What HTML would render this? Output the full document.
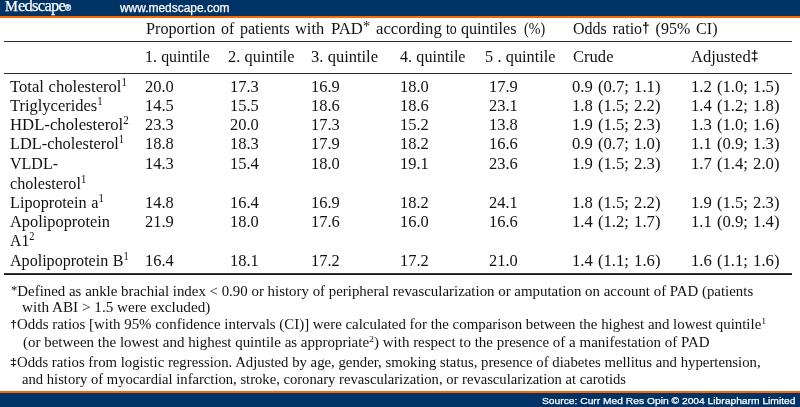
<!DOCTYPE html>
<html><head><meta charset="utf-8"><title>Table</title>
<style>
html,body{margin:0;padding:0;background:#fff;}
body{width:800px;height:407px;position:relative;overflow:hidden;}
.t{position:absolute;white-space:nowrap;transform-origin:0 0;}
.sp{font-size:0.66em;position:relative;top:-0.54em;line-height:0;}
.dg{font-family:"Liberation Sans",sans-serif;font-size:0.85em;font-weight:bold;position:relative;top:-0.06em;line-height:0;}
.ast{font-size:0.85em;position:relative;top:-0.17em;line-height:0;}
.w{-webkit-text-stroke:0.25px #fff;}
#txt{position:absolute;left:0;top:0;width:800px;height:407px;will-change:transform;}
.bar{position:absolute;left:0;width:800px;}
.ln{position:absolute;left:4px;width:788px;background:#2e2e2e;}
</style></head><body>
<div class="bar" style="top:0;height:16px;background:#003366"></div>
<div class="bar" style="top:16px;height:2px;background:#ff6600"></div>
<div class="bar" style="top:391px;height:2px;background:#ff6600"></div>
<div class="bar" style="top:393px;height:14px;background:#003366"></div>
<div class="ln" style="top:41px;height:1px"></div>
<div class="ln" style="top:73px;height:1px"></div>
<div class="ln" style="top:273px;height:1px;background:#3a3a3a"></div>
<div class="ln" style="top:274px;height:1px;background:#161616"></div>
<div id="txt">
<div class="t w" style='left:5.2px;top:-2px;font:normal 14.5px/16px "Liberation Serif", serif;color:#fff;transform:scaleX(0.9994);'>M<span style="font-size:16.5px;letter-spacing:-0.7px">edscape</span></div>
<div class="t w" style='left:65.3px;top:3px;font:bold 8.5px/10px "Liberation Sans", sans-serif;color:#fff;transform:scaleX(0.9736);'>®</div>
<div class="t w" style='left:120.3px;top:1px;font:normal 12px/14px "Liberation Sans", sans-serif;color:#fff;transform:scaleX(0.9950);'>www.medscape.com</div>
<div class="t w" style='left:541.5px;top:395px;font:normal 9.6px/11px "Liberation Sans", sans-serif;color:#fff;transform:scaleX(1.0700);'>Source: Curr Med Res Opin © 2004 Librapharm Limited</div>
<div class="t" style='left:146.0px;top:18px;font:normal 17.5px/20px "Liberation Serif", serif;color:#111;transform:scaleX(0.9255);'>Proportion</div>
<div class="t" style='left:221.0px;top:18px;font:normal 17.5px/20px "Liberation Serif", serif;color:#111;transform:scaleX(0.9123);'>of</div>
<div class="t" style='left:240.2px;top:18px;font:normal 17.5px/20px "Liberation Serif", serif;color:#111;transform:scaleX(0.9148);'>patients</div>
<div class="t" style='left:294.6px;top:18px;font:normal 17.5px/20px "Liberation Serif", serif;color:#111;transform:scaleX(0.9382);'>with</div>
<div class="t" style='left:331.2px;top:18px;font:normal 17.5px/20px "Liberation Serif", serif;color:#111;transform:scaleX(0.9549);'>PAD<span class="ast">*</span></div>
<div class="t" style='left:375.8px;top:18px;font:normal 17.5px/20px "Liberation Serif", serif;color:#111;transform:scaleX(0.9536);'>according</div>
<div class="t" style='left:446.0px;top:18px;font:normal 17.5px/20px "Liberation Serif", serif;color:#111;transform:scaleX(0.7927);'>to</div>
<div class="t" style='left:461.0px;top:18px;font:normal 17.5px/20px "Liberation Serif", serif;color:#111;transform:scaleX(0.9207);'>quintiles</div>
<div class="t" style='left:523.6px;top:18px;font:normal 17.5px/20px "Liberation Serif", serif;color:#111;transform:scaleX(0.8043);'>(%)</div>
<div class="t" style='left:572.5px;top:18px;font:normal 17.5px/20px "Liberation Serif", serif;color:#111;word-spacing:2px;transform:scaleX(0.9166);'>Odds ratio<span class="dg">†</span> (95% CI)</div>
<div class="t" style='left:144.8px;top:46px;font:normal 17.5px/20px "Liberation Serif", serif;color:#111;word-spacing:0.3px;transform:scaleX(0.9079);'>1. quintile</div>
<div class="t" style='left:228px;top:46px;font:normal 17.5px/20px "Liberation Serif", serif;color:#111;word-spacing:0.3px;transform:scaleX(0.9331);'>2. quintile</div>
<div class="t" style='left:311px;top:46px;font:normal 17.5px/20px "Liberation Serif", serif;color:#111;word-spacing:0.3px;transform:scaleX(0.9401);'>3. quintile</div>
<div class="t" style='left:400px;top:46px;font:normal 17.5px/20px "Liberation Serif", serif;color:#111;word-spacing:0.3px;transform:scaleX(0.9191);'>4. quintile</div>
<div class="t" style='left:485px;top:46px;font:normal 17.5px/20px "Liberation Serif", serif;color:#111;word-spacing:0.3px;transform:scaleX(0.9282);'>5 . quintile</div>
<div class="t" style='left:572.5px;top:46px;font:normal 17.5px/20px "Liberation Serif", serif;color:#111;word-spacing:2px;transform:scaleX(0.9467);'>Crude</div>
<div class="t" style='left:690.5px;top:46px;font:normal 17.5px/20px "Liberation Serif", serif;color:#111;word-spacing:2px;transform:scaleX(0.9445);'>Adjusted<span class="dg">‡</span></div>
<div class="t" style='left:10.0px;top:76px;font:normal 17.5px/20px "Liberation Serif", serif;color:#111;word-spacing:0.5px;transform:scaleX(0.9500);'>Total cholesterol<span class="sp">1</span></div>
<div class="t" style='left:10.0px;top:95px;font:normal 17.5px/20px "Liberation Serif", serif;color:#111;word-spacing:0.5px;transform:scaleX(0.9414);'>Triglycerides<span class="sp">1</span></div>
<div class="t" style='left:10.0px;top:114px;font:normal 17.5px/20px "Liberation Serif", serif;color:#111;word-spacing:0.5px;transform:scaleX(0.9549);'>HDL-cholesterol<span class="sp">2</span></div>
<div class="t" style='left:10.0px;top:133px;font:normal 17.5px/20px "Liberation Serif", serif;color:#111;word-spacing:0.5px;transform:scaleX(0.9334);'>LDL-cholesterol<span class="sp">1</span></div>
<div class="t" style='left:10.0px;top:153px;font:normal 17.5px/20px "Liberation Serif", serif;color:#111;word-spacing:0.5px;transform:scaleX(0.9146);'>VLDL-</div>
<div class="t" style='left:10.0px;top:173px;font:normal 17.5px/20px "Liberation Serif", serif;color:#111;word-spacing:0.5px;transform:scaleX(0.9235);'>cholesterol<span class="sp">1</span></div>
<div class="t" style='left:10.0px;top:192px;font:normal 17.5px/20px "Liberation Serif", serif;color:#111;word-spacing:0.5px;transform:scaleX(0.9278);'>Lipoprotein a<span class="sp">1</span></div>
<div class="t" style='left:10.0px;top:211px;font:normal 17.5px/20px "Liberation Serif", serif;color:#111;word-spacing:0.5px;transform:scaleX(0.9351);'>Apolipoprotein</div>
<div class="t" style='left:10.0px;top:230px;font:normal 17.5px/20px "Liberation Serif", serif;color:#111;word-spacing:0.5px;transform:scaleX(0.9017);'>A1<span class="sp">2</span></div>
<div class="t" style='left:10.0px;top:250px;font:normal 17.5px/20px "Liberation Serif", serif;color:#111;word-spacing:0.5px;transform:scaleX(0.9187);'>Apolipoprotein B<span class="sp">1</span></div>
<div class="t" style='left:145.2px;top:76px;font:normal 17.5px/20px "Liberation Serif", serif;color:#111;word-spacing:1px;transform:scaleX(0.9404);'>20.0</div>
<div class="t" style='left:229.8px;top:76px;font:normal 17.5px/20px "Liberation Serif", serif;color:#111;word-spacing:1px;transform:scaleX(0.9404);'>17.3</div>
<div class="t" style='left:310.5px;top:76px;font:normal 17.5px/20px "Liberation Serif", serif;color:#111;word-spacing:1px;transform:scaleX(0.9404);'>16.9</div>
<div class="t" style='left:399.5px;top:76px;font:normal 17.5px/20px "Liberation Serif", serif;color:#111;word-spacing:1px;transform:scaleX(0.9404);'>18.0</div>
<div class="t" style='left:489.0px;top:76px;font:normal 17.5px/20px "Liberation Serif", serif;color:#111;word-spacing:1px;transform:scaleX(0.9404);'>17.9</div>
<div class="t" style='left:571.5px;top:76px;font:normal 17.5px/20px "Liberation Serif", serif;color:#111;word-spacing:1px;transform:scaleX(0.9526);'>0.9 (0.7; 1.1)</div>
<div class="t" style='left:690.5px;top:76px;font:normal 17.5px/20px "Liberation Serif", serif;color:#111;word-spacing:1px;transform:scaleX(0.9526);'>1.2 (1.0; 1.5)</div>
<div class="t" style='left:145.2px;top:95px;font:normal 17.5px/20px "Liberation Serif", serif;color:#111;word-spacing:1px;transform:scaleX(0.9404);'>14.5</div>
<div class="t" style='left:229.8px;top:95px;font:normal 17.5px/20px "Liberation Serif", serif;color:#111;word-spacing:1px;transform:scaleX(0.9404);'>15.5</div>
<div class="t" style='left:310.5px;top:95px;font:normal 17.5px/20px "Liberation Serif", serif;color:#111;word-spacing:1px;transform:scaleX(0.9404);'>18.6</div>
<div class="t" style='left:399.5px;top:95px;font:normal 17.5px/20px "Liberation Serif", serif;color:#111;word-spacing:1px;transform:scaleX(0.9404);'>18.6</div>
<div class="t" style='left:489.0px;top:95px;font:normal 17.5px/20px "Liberation Serif", serif;color:#111;word-spacing:1px;transform:scaleX(0.9404);'>23.1</div>
<div class="t" style='left:571.5px;top:95px;font:normal 17.5px/20px "Liberation Serif", serif;color:#111;word-spacing:1px;transform:scaleX(0.9526);'>1.8 (1.5; 2.2)</div>
<div class="t" style='left:690.5px;top:95px;font:normal 17.5px/20px "Liberation Serif", serif;color:#111;word-spacing:1px;transform:scaleX(0.9526);'>1.4 (1.2; 1.8)</div>
<div class="t" style='left:145.2px;top:114px;font:normal 17.5px/20px "Liberation Serif", serif;color:#111;word-spacing:1px;transform:scaleX(0.9404);'>23.3</div>
<div class="t" style='left:229.8px;top:114px;font:normal 17.5px/20px "Liberation Serif", serif;color:#111;word-spacing:1px;transform:scaleX(0.9404);'>20.0</div>
<div class="t" style='left:310.5px;top:114px;font:normal 17.5px/20px "Liberation Serif", serif;color:#111;word-spacing:1px;transform:scaleX(0.9404);'>17.3</div>
<div class="t" style='left:399.5px;top:114px;font:normal 17.5px/20px "Liberation Serif", serif;color:#111;word-spacing:1px;transform:scaleX(0.9404);'>15.2</div>
<div class="t" style='left:489.0px;top:114px;font:normal 17.5px/20px "Liberation Serif", serif;color:#111;word-spacing:1px;transform:scaleX(0.9404);'>13.8</div>
<div class="t" style='left:571.5px;top:114px;font:normal 17.5px/20px "Liberation Serif", serif;color:#111;word-spacing:1px;transform:scaleX(0.9526);'>1.9 (1.5; 2.3)</div>
<div class="t" style='left:690.5px;top:114px;font:normal 17.5px/20px "Liberation Serif", serif;color:#111;word-spacing:1px;transform:scaleX(0.9526);'>1.3 (1.0; 1.6)</div>
<div class="t" style='left:145.2px;top:133px;font:normal 17.5px/20px "Liberation Serif", serif;color:#111;word-spacing:1px;transform:scaleX(0.9404);'>18.8</div>
<div class="t" style='left:229.8px;top:133px;font:normal 17.5px/20px "Liberation Serif", serif;color:#111;word-spacing:1px;transform:scaleX(0.9404);'>18.3</div>
<div class="t" style='left:310.5px;top:133px;font:normal 17.5px/20px "Liberation Serif", serif;color:#111;word-spacing:1px;transform:scaleX(0.9404);'>17.9</div>
<div class="t" style='left:399.5px;top:133px;font:normal 17.5px/20px "Liberation Serif", serif;color:#111;word-spacing:1px;transform:scaleX(0.9404);'>18.2</div>
<div class="t" style='left:489.0px;top:133px;font:normal 17.5px/20px "Liberation Serif", serif;color:#111;word-spacing:1px;transform:scaleX(0.9404);'>16.6</div>
<div class="t" style='left:571.5px;top:133px;font:normal 17.5px/20px "Liberation Serif", serif;color:#111;word-spacing:1px;transform:scaleX(0.9526);'>0.9 (0.7; 1.0)</div>
<div class="t" style='left:690.5px;top:133px;font:normal 17.5px/20px "Liberation Serif", serif;color:#111;word-spacing:1px;transform:scaleX(0.9526);'>1.1 (0.9; 1.3)</div>
<div class="t" style='left:145.2px;top:153px;font:normal 17.5px/20px "Liberation Serif", serif;color:#111;word-spacing:1px;transform:scaleX(0.9404);'>14.3</div>
<div class="t" style='left:229.8px;top:153px;font:normal 17.5px/20px "Liberation Serif", serif;color:#111;word-spacing:1px;transform:scaleX(0.9404);'>15.4</div>
<div class="t" style='left:310.5px;top:153px;font:normal 17.5px/20px "Liberation Serif", serif;color:#111;word-spacing:1px;transform:scaleX(0.9404);'>18.0</div>
<div class="t" style='left:399.5px;top:153px;font:normal 17.5px/20px "Liberation Serif", serif;color:#111;word-spacing:1px;transform:scaleX(0.9404);'>19.1</div>
<div class="t" style='left:489.0px;top:153px;font:normal 17.5px/20px "Liberation Serif", serif;color:#111;word-spacing:1px;transform:scaleX(0.9404);'>23.6</div>
<div class="t" style='left:571.5px;top:153px;font:normal 17.5px/20px "Liberation Serif", serif;color:#111;word-spacing:1px;transform:scaleX(0.9526);'>1.9 (1.5; 2.3)</div>
<div class="t" style='left:690.5px;top:153px;font:normal 17.5px/20px "Liberation Serif", serif;color:#111;word-spacing:1px;transform:scaleX(0.9526);'>1.7 (1.4; 2.0)</div>
<div class="t" style='left:145.2px;top:192px;font:normal 17.5px/20px "Liberation Serif", serif;color:#111;word-spacing:1px;transform:scaleX(0.9404);'>14.8</div>
<div class="t" style='left:229.8px;top:192px;font:normal 17.5px/20px "Liberation Serif", serif;color:#111;word-spacing:1px;transform:scaleX(0.9404);'>16.4</div>
<div class="t" style='left:310.5px;top:192px;font:normal 17.5px/20px "Liberation Serif", serif;color:#111;word-spacing:1px;transform:scaleX(0.9404);'>16.9</div>
<div class="t" style='left:399.5px;top:192px;font:normal 17.5px/20px "Liberation Serif", serif;color:#111;word-spacing:1px;transform:scaleX(0.9404);'>18.2</div>
<div class="t" style='left:489.0px;top:192px;font:normal 17.5px/20px "Liberation Serif", serif;color:#111;word-spacing:1px;transform:scaleX(0.9404);'>24.1</div>
<div class="t" style='left:571.5px;top:192px;font:normal 17.5px/20px "Liberation Serif", serif;color:#111;word-spacing:1px;transform:scaleX(0.9526);'>1.8 (1.5; 2.2)</div>
<div class="t" style='left:690.5px;top:192px;font:normal 17.5px/20px "Liberation Serif", serif;color:#111;word-spacing:1px;transform:scaleX(0.9526);'>1.9 (1.5; 2.3)</div>
<div class="t" style='left:145.2px;top:211px;font:normal 17.5px/20px "Liberation Serif", serif;color:#111;word-spacing:1px;transform:scaleX(0.9404);'>21.9</div>
<div class="t" style='left:229.8px;top:211px;font:normal 17.5px/20px "Liberation Serif", serif;color:#111;word-spacing:1px;transform:scaleX(0.9404);'>18.0</div>
<div class="t" style='left:310.5px;top:211px;font:normal 17.5px/20px "Liberation Serif", serif;color:#111;word-spacing:1px;transform:scaleX(0.9404);'>17.6</div>
<div class="t" style='left:399.5px;top:211px;font:normal 17.5px/20px "Liberation Serif", serif;color:#111;word-spacing:1px;transform:scaleX(0.9404);'>16.0</div>
<div class="t" style='left:489.0px;top:211px;font:normal 17.5px/20px "Liberation Serif", serif;color:#111;word-spacing:1px;transform:scaleX(0.9404);'>16.6</div>
<div class="t" style='left:571.5px;top:211px;font:normal 17.5px/20px "Liberation Serif", serif;color:#111;word-spacing:1px;transform:scaleX(0.9526);'>1.4 (1.2; 1.7)</div>
<div class="t" style='left:690.5px;top:211px;font:normal 17.5px/20px "Liberation Serif", serif;color:#111;word-spacing:1px;transform:scaleX(0.9526);'>1.1 (0.9; 1.4)</div>
<div class="t" style='left:145.2px;top:250px;font:normal 17.5px/20px "Liberation Serif", serif;color:#111;word-spacing:1px;transform:scaleX(0.9404);'>16.4</div>
<div class="t" style='left:229.8px;top:250px;font:normal 17.5px/20px "Liberation Serif", serif;color:#111;word-spacing:1px;transform:scaleX(0.9404);'>18.1</div>
<div class="t" style='left:310.5px;top:250px;font:normal 17.5px/20px "Liberation Serif", serif;color:#111;word-spacing:1px;transform:scaleX(0.9404);'>17.2</div>
<div class="t" style='left:399.5px;top:250px;font:normal 17.5px/20px "Liberation Serif", serif;color:#111;word-spacing:1px;transform:scaleX(0.9404);'>17.2</div>
<div class="t" style='left:489.0px;top:250px;font:normal 17.5px/20px "Liberation Serif", serif;color:#111;word-spacing:1px;transform:scaleX(0.9404);'>21.0</div>
<div class="t" style='left:571.5px;top:250px;font:normal 17.5px/20px "Liberation Serif", serif;color:#111;word-spacing:1px;transform:scaleX(0.9526);'>1.4 (1.1; 1.6)</div>
<div class="t" style='left:690.5px;top:250px;font:normal 17.5px/20px "Liberation Serif", serif;color:#111;word-spacing:1px;transform:scaleX(0.9526);'>1.6 (1.1; 1.6)</div>
<div class="t" style='left:11.0px;top:284px;font:normal 13.6px/15px "Liberation Serif", serif;color:#111;transform:scaleX(1.0952);'><span class="ast">*</span>Defined as ankle brachial index &lt; 0.90 or history of peripheral revascularization or amputation on account of PAD (patients</div>
<div class="t" style='left:21.7px;top:300px;font:normal 13.6px/15px "Liberation Serif", serif;color:#111;transform:scaleX(1.1176);'>with ABI &gt; 1.5 were excluded)</div>
<div class="t" style='left:10.4px;top:317px;font:normal 13.6px/15px "Liberation Serif", serif;color:#111;transform:scaleX(1.0959);'><span class="dg">†</span>Odds ratios [with 95% confidence intervals (CI)] were calculated for the comparison between the highest and lowest quintile<span class="sp">1</span></div>
<div class="t" style='left:22.6px;top:335px;font:normal 13.6px/15px "Liberation Serif", serif;color:#111;transform:scaleX(1.1019);'>(or between the lowest and highest quintile as appropriate<span class="sp">2</span>) with respect to the presence of a manifestation of PAD</div>
<div class="t" style='left:9.8px;top:355px;font:normal 13.6px/15px "Liberation Serif", serif;color:#111;transform:scaleX(1.0862);'><span class="dg">‡</span>Odds ratios from logistic regression. Adjusted by age, gender, smoking status, presence of diabetes mellitus and hypertension,</div>
<div class="t" style='left:22.2px;top:372px;font:normal 13.6px/15px "Liberation Serif", serif;color:#111;transform:scaleX(1.0754);'>and history of myocardial infarction, stroke, coronary revascularization, or revascularization at carotids</div>
</div>
</body></html>
